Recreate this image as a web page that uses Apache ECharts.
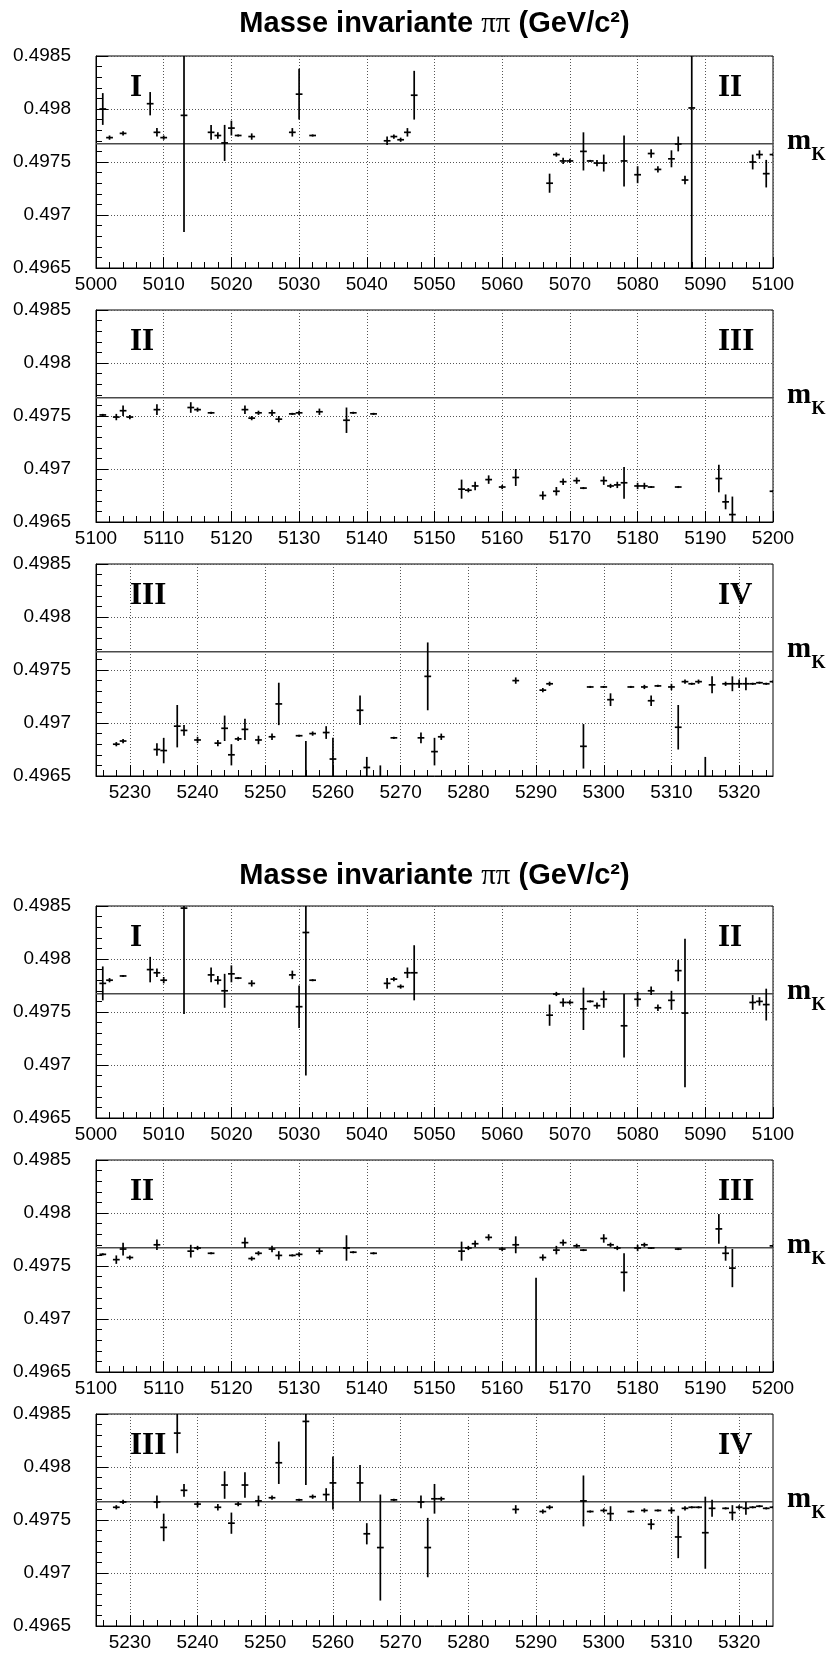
<!DOCTYPE html>
<html>
<head>
<meta charset="utf-8">
<script src="https://cdn.jsdelivr.net/npm/echarts@6.0.0/dist/echarts.min.js"></script>
<style>
  html, body { margin: 0; padding: 0; background: #ffffff; }
  #chart { width: 833px; height: 1655px; }
</style>
</head>
<body>
<div id="chart"></div>
<script>
// Reference K0 mass (GeV/c^2)
const M_K = 0.497672;

// Vertical scale shared by all panels
const Y_MIN = 0.4965, Y_MAX = 0.4985, Y_STEP = 0.0005;

// Run ranges of the three rows
const RANGE_1 = [5000, 5100];
const RANGE_2 = [5100, 5200];
const RANGE_3 = [5225, 5325];

// Period labels (left / right of each row)
const PERIODS_1 = ['I', 'II'];
const PERIODS_2 = ['II', 'III'];
const PERIODS_3 = ['III', 'IV'];

const TITLE = 'Masse invariante {pi|\u03c0\u03c0} (GeV/c\u00b2)';

// ---- first calibration, runs 5000-5100 ----
const RUN_A1 = [5001,5002,5004,5008,5009,5010,5013,5017,5018,5019,5020,5021,5023,5029,5030,5032,5043,5044,5045,5046,5047,5067,5068,5069,5070,5072,5073,5074,5075,5078,5080,5082,5083,5085,5086,5087,5088,5097,5098,5099,5100];
const MASS_A1 = [0.49800,0.49773,0.49777,0.49805,0.49778,0.49773,0.49794,0.49778,0.49775,0.49768,0.49782,0.49775,0.49774,0.49778,0.49814,0.49775,0.49770,0.49774,0.49771,0.49778,0.49813,0.49730,0.49757,0.49751,0.49751,0.49760,0.49751,0.49749,0.49749,0.49751,0.49738,0.49758,0.49743,0.49753,0.49767,0.49733,0.49801,0.49750,0.49757,0.49739,0.49757];
const ERR_A1 = [0.00015,0.00002,0.00002,0.00011,0.00004,0.00002,0.00110,0.00007,0.00003,0.00017,0.00007,0.00001,0.00003,0.00004,0.00024,0.00001,0.00004,0.00002,0.00002,0.00004,0.00023,0.00009,0.00002,0.00003,0.00002,0.00018,0.00001,0.00003,0.00008,0.00024,0.00008,0.00004,0.00003,0.00008,0.00007,0.00004,0.00250,0.00007,0.00004,0.00013,0.00001];

// ---- first calibration, runs 5100-5200 ----
const RUN_A2 = [5101,5103,5104,5105,5109,5114,5115,5117,5122,5123,5124,5126,5127,5129,5130,5133,5137,5138,5141,5154,5155,5156,5158,5160,5162,5166,5168,5169,5171,5172,5175,5176,5177,5178,5180,5181,5182,5186,5192,5193,5194,5200];
const MASS_A2 = [0.49751,0.49749,0.49755,0.49749,0.49756,0.49758,0.49756,0.49753,0.49756,0.49748,0.49753,0.49753,0.49747,0.49752,0.49753,0.49754,0.49746,0.49753,0.49752,0.49681,0.49680,0.49684,0.49690,0.49683,0.49692,0.49675,0.49679,0.49688,0.49689,0.49682,0.49689,0.49684,0.49685,0.49687,0.49684,0.49684,0.49683,0.49683,0.49691,0.49669,0.49657,0.49679];
const ERR_A2 = [0.00001,0.00003,0.00005,0.00002,0.00005,0.00005,0.00002,0.00001,0.00004,0.00002,0.00002,0.00003,0.00003,0.00001,0.00002,0.00003,0.00012,0.00001,0.00001,0.00009,0.00002,0.00004,0.00004,0.00002,0.00008,0.00004,0.00004,0.00003,0.00003,0.00001,0.00004,0.00002,0.00003,0.00015,0.00003,0.00003,0.00001,0.00001,0.00013,0.00007,0.00017,0.00001];

// ---- first calibration, runs 5225-5325 ----
const RUN_A3 = [5228,5229,5234,5235,5237,5238,5240,5243,5244,5245,5246,5247,5249,5251,5252,5255,5256,5257,5259,5260,5264,5265,5267,5269,5273,5274,5275,5276,5287,5291,5292,5297,5298,5300,5301,5304,5306,5307,5308,5310,5311,5312,5313,5314,5315,5316,5318,5319,5320,5321,5322,5323,5324,5325];
const MASS_A3 = [0.49680,0.49683,0.49675,0.49674,0.49697,0.49693,0.49684,0.49681,0.49695,0.49670,0.49685,0.49694,0.49684,0.49687,0.49718,0.49688,0.49640,0.49690,0.49691,0.49666,0.49712,0.49658,0.49645,0.49686,0.49686,0.49744,0.49673,0.49687,0.49740,0.49731,0.49737,0.49678,0.49734,0.49734,0.49722,0.49734,0.49734,0.49721,0.49735,0.49734,0.49696,0.49739,0.49737,0.49739,0.49645,0.49736,0.49737,0.49737,0.49737,0.49737,0.49737,0.49738,0.49737,0.49739];
const ERR_A3 = [0.00002,0.00002,0.00006,0.00012,0.00020,0.00005,0.00003,0.00003,0.00012,0.00010,0.00002,0.00010,0.00004,0.00003,0.00020,0.00001,0.00043,0.00002,0.00006,0.00020,0.00014,0.00010,0.00015,0.00001,0.00005,0.00032,0.00013,0.00003,0.00003,0.00002,0.00002,0.00021,0.00001,0.00001,0.00006,0.00001,0.00002,0.00005,0.00001,0.00003,0.00021,0.00002,0.00001,0.00002,0.00023,0.00008,0.00002,0.00007,0.00004,0.00006,0.00001,0.00001,0.00001,0.00001];

// ---- corrected calibration, runs 5000-5100 ----
const RUN_B1 = [5001,5002,5004,5008,5009,5010,5013,5017,5018,5019,5020,5021,5023,5029,5030,5031,5032,5043,5044,5045,5046,5047,5067,5068,5069,5070,5072,5073,5074,5075,5078,5080,5082,5083,5085,5086,5087,5097,5098,5099];
const MASS_B1 = [0.49777,0.49780,0.49784,0.49790,0.49787,0.49780,0.49848,0.49785,0.49780,0.49770,0.49786,0.49782,0.49777,0.49785,0.49755,0.49825,0.49780,0.49777,0.49781,0.49774,0.49787,0.49787,0.49747,0.49767,0.49759,0.49759,0.49753,0.49760,0.49756,0.49762,0.49737,0.49762,0.49770,0.49754,0.49761,0.49789,0.49749,0.49759,0.49760,0.49757];
const ERR_B1 = [0.00016,0.00002,0.00001,0.00012,0.00004,0.00003,0.00100,0.00007,0.00004,0.00016,0.00008,0.00001,0.00003,0.00004,0.00020,0.00135,0.00001,0.00005,0.00002,0.00002,0.00005,0.00026,0.00010,0.00002,0.00004,0.00002,0.00020,0.00001,0.00003,0.00008,0.00030,0.00007,0.00004,0.00003,0.00009,0.00010,0.00070,0.00007,0.00004,0.00015];

// ---- corrected calibration, runs 5100-5200 ----
const RUN_B2 = [5101,5103,5104,5105,5109,5114,5115,5117,5122,5123,5124,5126,5127,5129,5130,5133,5137,5138,5141,5154,5155,5156,5158,5160,5162,5165,5166,5168,5169,5171,5172,5175,5176,5177,5178,5180,5181,5182,5186,5192,5193,5194,5200];
const MASS_B2 = [0.49761,0.49756,0.49766,0.49758,0.49770,0.49764,0.49767,0.49762,0.49772,0.49757,0.49762,0.49766,0.49760,0.49760,0.49761,0.49764,0.49767,0.49763,0.49762,0.49764,0.49767,0.49771,0.49777,0.49766,0.49770,0.49640,0.49758,0.49765,0.49772,0.49769,0.49765,0.49776,0.49770,0.49767,0.49744,0.49767,0.49770,0.49767,0.49766,0.49785,0.49762,0.49748,0.49769];
const ERR_B2 = [0.00001,0.00004,0.00006,0.00002,0.00005,0.00006,0.00002,0.00001,0.00005,0.00002,0.00002,0.00003,0.00004,0.00001,0.00002,0.00003,0.00012,0.00001,0.00001,0.00009,0.00002,0.00003,0.00003,0.00002,0.00008,0.00099,0.00003,0.00004,0.00003,0.00002,0.00001,0.00004,0.00002,0.00002,0.00018,0.00003,0.00002,0.00001,0.00001,0.00014,0.00007,0.00018,0.00001];

// ---- corrected calibration, runs 5225-5325 ----
const RUN_B3 = [5228,5229,5234,5235,5237,5238,5240,5243,5244,5245,5246,5247,5249,5251,5252,5255,5256,5257,5259,5260,5264,5265,5267,5269,5273,5274,5275,5276,5287,5291,5292,5297,5298,5300,5301,5304,5306,5307,5308,5310,5311,5312,5313,5314,5315,5316,5318,5319,5320,5321,5322,5323,5324,5325];
const MASS_B3 = [0.49762,0.49767,0.49767,0.49743,0.49832,0.49778,0.49765,0.49762,0.49783,0.49747,0.49765,0.49783,0.49768,0.49771,0.49804,0.49769,0.49843,0.49772,0.49774,0.49785,0.49785,0.49737,0.49724,0.49769,0.49767,0.49724,0.49770,0.49770,0.49760,0.49758,0.49762,0.49768,0.49758,0.49759,0.49756,0.49758,0.49759,0.49746,0.49759,0.49759,0.49734,0.49761,0.49762,0.49762,0.49738,0.49761,0.49761,0.49757,0.49762,0.49761,0.49762,0.49763,0.49761,0.49762];
const ERR_B3 = [0.00002,0.00002,0.00006,0.00013,0.00019,0.00006,0.00003,0.00003,0.00013,0.00010,0.00002,0.00012,0.00005,0.00002,0.00020,0.00001,0.00060,0.00002,0.00006,0.00025,0.00017,0.00010,0.00050,0.00001,0.00006,0.00028,0.00014,0.00002,0.00004,0.00002,0.00002,0.00024,0.00001,0.00002,0.00007,0.00001,0.00002,0.00005,0.00001,0.00003,0.00020,0.00002,0.00001,0.00001,0.00034,0.00008,0.00001,0.00007,0.00002,0.00006,0.00001,0.00001,0.00001,0.00001];

// ---- layout ----
const FONT = '"Liberation Sans", Arial, Helvetica, sans-serif';
const SERIF = '"Liberation Serif", "Times New Roman", serif';
const GRID_LEFT = 96, GRID_W = 677, GRID_H = 212;
const GRID_TOPS = [56, 310, 564, 906, 1160, 1414];
const TITLE_Y = [24.3, 876];
const DOTS = { color: '#555', width: 1, type: [1, 2] };

const PANELS = [
  { range: RANGE_1, periods: PERIODS_1, runs: RUN_A1, mass: MASS_A1, err: ERR_A1 },
  { range: RANGE_2, periods: PERIODS_2, runs: RUN_A2, mass: MASS_A2, err: ERR_A2 },
  { range: RANGE_3, periods: PERIODS_3, runs: RUN_A3, mass: MASS_A3, err: ERR_A3 },
  { range: RANGE_1, periods: PERIODS_1, runs: RUN_B1, mass: MASS_B1, err: ERR_B1 },
  { range: RANGE_2, periods: PERIODS_2, runs: RUN_B2, mass: MASS_B2, err: ERR_B2 },
  { range: RANGE_3, periods: PERIODS_3, runs: RUN_B3, mass: MASS_B3, err: ERR_B3 }
];

// One run: horizontal bar over the run bin, vertical bar for the error
function renderPoint(params, api) {
  const x = api.value(0), y = api.value(1), e = api.value(2);
  const c = api.coord([x, y]);
  const l = api.coord([x - 0.5, y]);
  const r = api.coord([x + 0.5, y]);
  const t = api.coord([x, y + e]);
  const b = api.coord([x, y - e]);
  const st = { stroke: '#000', lineWidth: 1.7 };
  return {
    type: 'group',
    children: [
      { type: 'line', shape: { x1: l[0], y1: c[1], x2: r[0], y2: c[1] }, style: st },
      { type: 'line', shape: { x1: c[0], y1: t[1], x2: c[0], y2: b[1] }, style: st }
    ]
  };
}

// Reference mass line with its label on the right
function renderMk(params, api) {
  const a = api.coord([api.value(0), api.value(1)]);
  const b = api.coord([api.value(2), api.value(1)]);
  return {
    type: 'group',
    children: [
      { type: 'line', shape: { x1: a[0], y1: a[1], x2: b[0], y2: b[1] },
        style: { stroke: '#4a4a4a', lineWidth: 1.5 } },
      { type: 'text', x: b[0] + 14, y: b[1] - 2,
        style: { text: 'm', fontFamily: SERIF, fontWeight: 'bold', fontSize: 29,
                 fill: '#000', align: 'left', verticalAlign: 'middle' } },
      { type: 'text', x: b[0] + 38.5, y: b[1] + 12,
        style: { text: 'K', fontFamily: SERIF, fontWeight: 'bold', fontSize: 18,
                 fill: '#000', align: 'left', verticalAlign: 'middle' } }
    ]
  };
}

const grids = [], xAxes = [], yAxes = [], series = [], graphics = [];

PANELS.forEach((p, i) => {
  const lo = p.range[0], hi = p.range[1];
  const top = GRID_TOPS[i];
  const majors = [], minors = [];
  for (let v = Math.ceil(lo / 2) * 2; v <= hi; v += 2) {
    (v % 10 === 0 ? majors : minors).push(v);
  }

  grids.push({ left: GRID_LEFT, top: top, width: GRID_W, height: GRID_H,
               show: true, borderColor: '#000', borderWidth: 1, containLabel: false });

  xAxes.push({
    gridIndex: i, type: 'value', min: lo, max: hi, position: 'bottom',
    axisLine: { show: true, onZero: false, lineStyle: { color: '#000', width: 1 } },
    axisTick: { show: true, inside: true, length: 11, customValues: majors,
                lineStyle: { color: '#000', width: 1 } },
    axisLabel: { show: true, customValues: majors, margin: 7, color: '#000',
                 fontSize: 19, fontFamily: FONT, formatter: v => String(Math.round(v)) },
    splitLine: { show: true, lineStyle: DOTS }
  });
  xAxes.push({
    gridIndex: i, type: 'value', min: lo, max: hi, position: 'bottom',
    axisLine: { show: false, onZero: false },
    axisTick: { show: true, inside: true, length: 6, customValues: minors,
                lineStyle: { color: '#000', width: 1 } },
    axisLabel: { show: false },
    splitLine: { show: false }
  });

  yAxes.push({
    gridIndex: i, type: 'value', min: Y_MIN, max: Y_MAX, interval: Y_STEP,
    axisLine: { show: true, onZero: false, lineStyle: { color: '#000', width: 1 } },
    axisTick: { show: true, inside: true, length: 12, lineStyle: { color: '#000', width: 1 } },
    minorTick: { show: true, splitNumber: 5, length: 6, lineStyle: { color: '#000', width: 1 } },
    axisLabel: { margin: 25, color: '#000', fontSize: 19, fontFamily: FONT,
                 formatter: v => String(+(+v).toFixed(4)) },
    splitLine: { show: true, lineStyle: DOTS }
  });

  series.push({
    type: 'custom', xAxisIndex: 2 * i, yAxisIndex: i, clip: false, silent: true, z: 3,
    data: [[lo, M_K, hi]], encode: { x: [0, 2], y: 1 }, renderItem: renderMk
  });
  series.push({
    type: 'custom', xAxisIndex: 2 * i, yAxisIndex: i, clip: true, silent: true, z: 5,
    data: p.runs.map((r, k) => [r, p.mass[k], p.err[k]]),
    encode: { x: 0, y: 1 }, renderItem: renderPoint
  });

  // period labels inside the frame
  graphics.push({ type: 'text', x: GRID_LEFT + 34, y: top + 31.5,
    style: { text: p.periods[0], fontFamily: SERIF, fontWeight: 'bold', fontSize: 31,
             fill: '#000', align: 'left', verticalAlign: 'middle' } });
  graphics.push({ type: 'text', x: GRID_LEFT + 622, y: top + 31.5,
    style: { text: p.periods[1], fontFamily: SERIF, fontWeight: 'bold', fontSize: 31,
             fill: '#000', align: 'left', verticalAlign: 'middle' } });
});

TITLE_Y.forEach(y => {
  graphics.push({ type: 'text', x: GRID_LEFT + GRID_W / 2, y: y,
    style: { text: TITLE, fontFamily: FONT, fontWeight: 'bold', fontSize: 29, fill: '#000',
             align: 'center', verticalAlign: 'middle',
             rich: { pi: { fontFamily: SERIF, fontWeight: 'normal', fontSize: 29, fill: '#000' } } } });
});

const chart = echarts.init(document.getElementById('chart'), null, { renderer: 'canvas' });
chart.setOption({
  animation: false,
  backgroundColor: '#ffffff',
  grid: grids,
  xAxis: xAxes,
  yAxis: yAxes,
  series: series,
  graphic: graphics
});
</script>
</body>
</html>
